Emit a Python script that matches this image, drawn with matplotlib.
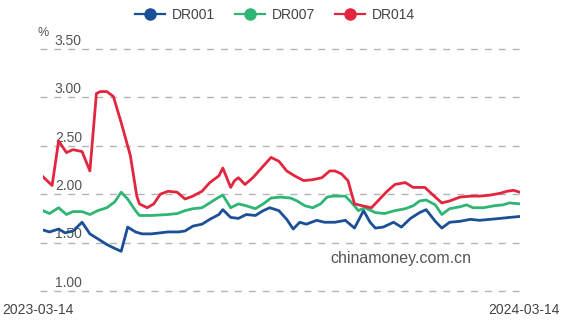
import matplotlib
matplotlib.use("Agg")
import matplotlib.pyplot as plt
import matplotlib.transforms as mtransforms
import pandas as pd

plt.rcParams['font.family'] = ['Liberation Sans', 'DejaVu Sans']

# Interbank pledged repo rates (%), one year window
dr001_dates = ["2023-03-14", "2023-03-19", "2023-03-26", "2023-03-31", "2023-04-06", "2023-04-13",
               "2023-04-19", "2023-04-25", "2023-05-02", "2023-05-08", "2023-05-13", "2023-05-18",
               "2023-05-24", "2023-05-29", "2023-06-05", "2023-06-18", "2023-06-26", "2023-07-01",
               "2023-07-07", "2023-07-14", "2023-07-20", "2023-07-27", "2023-07-30", "2023-08-05",
               "2023-08-11", "2023-08-17", "2023-08-24", "2023-08-30", "2023-09-04", "2023-09-11",
               "2023-09-17", "2023-09-22", "2023-09-27", "2023-10-02", "2023-10-10", "2023-10-16",
               "2023-10-24", "2023-11-01", "2023-11-08", "2023-11-15", "2023-11-20", "2023-11-24",
               "2023-11-30", "2023-12-08", "2023-12-14", "2023-12-21", "2023-12-28", "2024-01-02",
               "2024-01-09", "2024-01-14", "2024-01-20", "2024-01-28", "2024-02-05", "2024-02-12",
               "2024-02-20", "2024-02-28", "2024-03-06", "2024-03-14"]
dr001 = [1.63, 1.61, 1.64, 1.60, 1.62, 1.71, 1.59, 1.54, 1.48, 1.44, 1.41, 1.66,
         1.61, 1.59, 1.59, 1.61, 1.61, 1.62, 1.67, 1.69, 1.74, 1.79, 1.84, 1.76,
         1.75, 1.79, 1.78, 1.83, 1.86, 1.83, 1.74, 1.64, 1.71, 1.69, 1.73, 1.71,
         1.71, 1.73, 1.65, 1.83, 1.71, 1.65, 1.66, 1.71, 1.66, 1.75, 1.81, 1.84,
         1.72, 1.65, 1.71, 1.72, 1.74, 1.73, 1.74, 1.75, 1.76, 1.77]

dr007_dates = ["2023-03-14", "2023-03-19", "2023-03-26", "2023-04-01", "2023-04-06", "2023-04-13",
               "2023-04-19", "2023-04-25", "2023-05-02", "2023-05-08", "2023-05-13", "2023-05-18",
               "2023-05-24", "2023-05-27", "2023-06-05", "2023-06-18", "2023-06-25", "2023-07-01",
               "2023-07-07", "2023-07-14", "2023-07-20", "2023-07-27", "2023-07-30", "2023-08-05",
               "2023-08-08", "2023-08-11", "2023-08-17", "2023-08-24", "2023-08-30", "2023-09-05",
               "2023-09-12", "2023-09-20", "2023-09-25", "2023-10-01", "2023-10-07", "2023-10-13",
               "2023-10-18", "2023-10-22", "2023-11-01", "2023-11-06", "2023-11-11", "2023-11-16",
               "2023-11-24", "2023-12-01", "2023-12-09", "2023-12-17", "2023-12-23", "2023-12-28",
               "2024-01-02", "2024-01-09", "2024-01-14", "2024-01-20", "2024-01-28", "2024-02-02",
               "2024-02-07", "2024-02-15", "2024-02-23", "2024-03-01", "2024-03-06", "2024-03-14"]
dr007 = [1.83, 1.80, 1.86, 1.79, 1.82, 1.82, 1.79, 1.83, 1.86, 1.92, 2.02, 1.95,
         1.83, 1.78, 1.78, 1.79, 1.80, 1.83, 1.85, 1.86, 1.91, 1.97, 1.99, 1.86,
         1.88, 1.90, 1.88, 1.85, 1.90, 1.96, 1.97, 1.96, 1.93, 1.88, 1.86, 1.90,
         1.97, 1.98, 1.98, 1.91, 1.83, 1.86, 1.81, 1.80, 1.83, 1.85, 1.88, 1.93,
         1.94, 1.89, 1.79, 1.85, 1.87, 1.89, 1.86, 1.86, 1.88, 1.89, 1.91, 1.90]

dr014_dates = ["2023-03-14", "2023-03-21", "2023-03-26", "2023-04-01", "2023-04-06", "2023-04-13",
               "2023-04-19", "2023-04-24", "2023-04-27", "2023-05-02", "2023-05-07", "2023-05-13",
               "2023-05-20", "2023-05-25", "2023-05-27", "2023-06-02", "2023-06-07", "2023-06-12",
               "2023-06-18", "2023-06-25", "2023-07-01", "2023-07-07", "2023-07-14", "2023-07-20",
               "2023-07-27", "2023-07-30", "2023-08-05", "2023-08-08", "2023-08-11", "2023-08-16",
               "2023-08-22", "2023-08-30", "2023-09-05", "2023-09-11", "2023-09-17", "2023-09-23",
               "2023-09-30", "2023-10-07", "2023-10-14", "2023-10-20", "2023-10-24", "2023-10-29",
               "2023-11-03", "2023-11-08", "2023-11-14", "2023-11-21", "2023-11-26", "2023-12-03",
               "2023-12-09", "2023-12-17", "2023-12-23", "2024-01-01", "2024-01-09", "2024-01-14",
               "2024-01-20", "2024-01-28", "2024-02-05", "2024-02-12", "2024-02-20", "2024-02-28",
               "2024-03-04", "2024-03-09", "2024-03-14"]
dr014 = [2.18, 2.09, 2.55, 2.43, 2.46, 2.44, 2.24, 3.04, 3.06, 3.06, 3.01, 2.74,
         2.40, 1.98, 1.90, 1.86, 1.90, 2.00, 2.03, 2.02, 1.95, 1.98, 2.03, 2.12,
         2.19, 2.27, 2.07, 2.14, 2.17, 2.10, 2.17, 2.29, 2.38, 2.34, 2.24, 2.19,
         2.14, 2.15, 2.17, 2.24, 2.24, 2.21, 2.14, 1.90, 1.88, 1.86, 1.93, 2.03,
         2.10, 2.12, 2.07, 2.07, 1.97, 1.91, 1.93, 1.97, 1.98, 1.98, 1.99, 2.01,
         2.03, 2.04, 2.02]

y_ticks = [1.00, 1.50, 2.00, 2.50, 3.00, 3.50]
start_label, end_label = "2023-03-14", "2024-03-14"

series = [("DR001", dr001_dates, dr001, "#1b4f96"),
          ("DR007", dr007_dates, dr007, "#2fb574"),
          ("DR014", dr014_dates, dr014, "#e3263f")]

fig = plt.figure(figsize=(5.67, 3.22), dpi=100)
ax = fig.add_axes([0.0758, 0.0963, 0.8413, 0.7516])

for name, dates, vals, color in series:
    ax.plot(pd.to_datetime(dates), vals, color=color, lw=2.0, label=name,
            solid_joinstyle='round')

ax.set_xlim(pd.Timestamp(start_label), pd.Timestamp(end_label))
ax.set_ylim(1.0, 3.5)
ax.set_yticks(y_ticks)
ax.set_xticks([])
ax.tick_params(left=False, labelleft=False)
for s in ax.spines.values():
    s.set_visible(False)

# dashed horizontal grid, slightly wider than the plot on the left
trans = mtransforms.blended_transform_factory(ax.transAxes, ax.transData)
for v in y_ticks:
    ax.plot([-0.006, 1.0], [v, v], transform=trans, color="#b4b4b4", lw=1,
            dashes=(5, 5), clip_on=False, zorder=0)
    ax.text(0.025, v + 0.012, f"{v:.2f}", transform=trans, ha='left', va='bottom',
            fontsize=10, color="#555555", zorder=1)

fig.text(37 / 567, 1 - 33 / 322, "%", fontsize=9, color="#555555", ha='left', va='center')
fig.text(330 / 567, 1 - 258 / 322, "chinamoney.com.cn", fontsize=11.5, color="#555555",
         ha='left', va='center')
fig.text(2 / 567, 1 - 310 / 322, start_label, fontsize=10, color="#444444", ha='left', va='center')
fig.text(560 / 567, 1 - 310 / 322, end_label, fontsize=10, color="#444444", ha='right', va='center')

handles = [plt.Line2D([], [], color=c, lw=1.6, marker='o', markersize=8) for _, _, _, c in series]
fig.legend(handles, [s[0] for s in series], loc='center', bbox_to_anchor=(0.485, 1 - 15 / 322),
           ncol=3, frameon=False, fontsize=10, handlelength=2.2, columnspacing=1.4,
           handletextpad=0.5, labelcolor="#444444")

fig.savefig("out.png", dpi=100)
